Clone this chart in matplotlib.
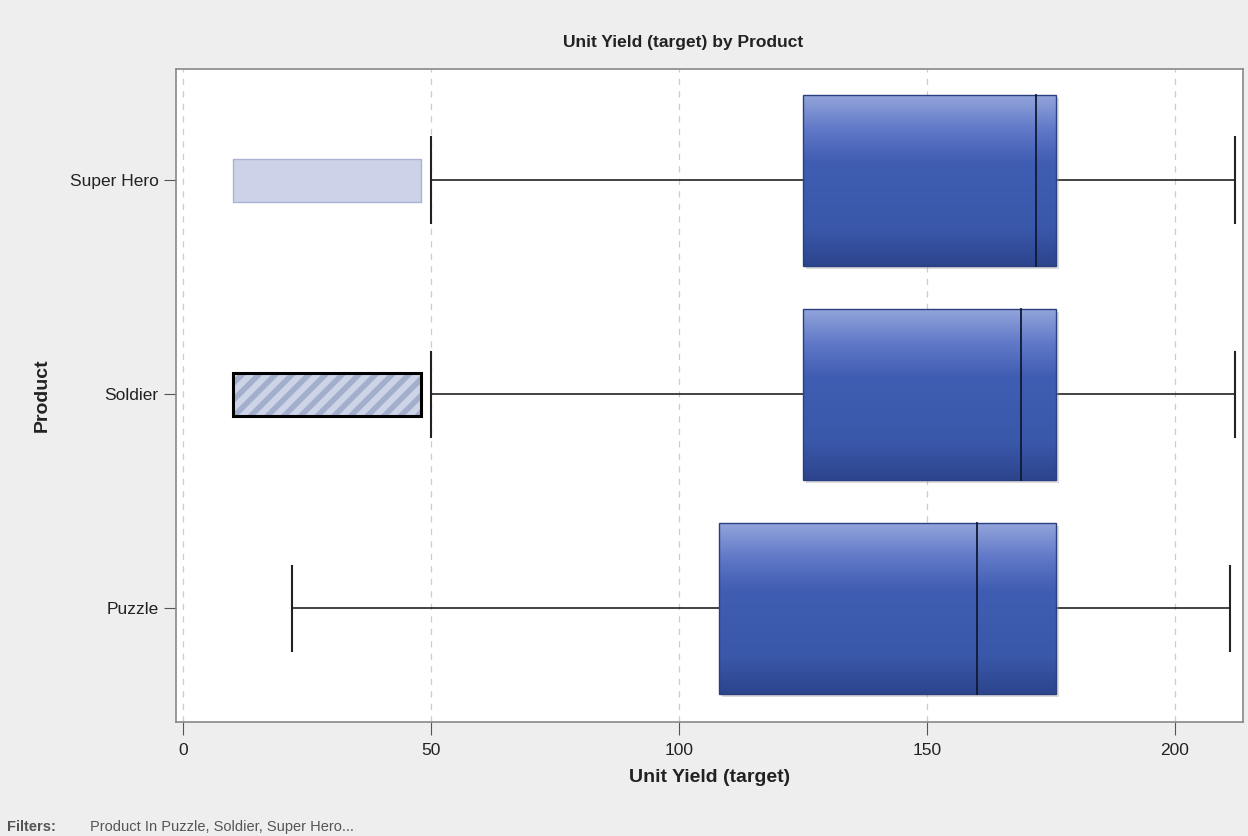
import numpy as np
import matplotlib.pyplot as plt
from matplotlib.patches import Rectangle
from matplotlib.colors import LinearSegmentedColormap

plt.rcParams['font.family'] = ['Liberation Sans', 'DejaVu Sans']
plt.rcParams['hatch.linewidth'] = 4.0

# Data
products = ['Puzzle', 'Soldier', 'Super Hero']
whisker_low = [22, 50, 50]
q1 = [108, 125, 125]
median = [160, 169, 172]
q3 = [176, 176, 176]
whisker_high = [211, 212, 212]

# Left-hand highlight bars (Soldier is the selected, hatched one)
hl_start = [None, 10, 10]
hl_end = [None, 48, 48]
hl_selected = [False, True, False]

x_ticks = [0, 50, 100, 150, 200]


def main():
    fig = plt.figure(figsize=(12.48, 8.36), dpi=100, facecolor='#eeeeee')
    ax = fig.add_axes([0.141, 0.1364, 0.855, 0.7811])
    ax.set_facecolor('white')

    cmap = LinearSegmentedColormap.from_list(
        'boxgrad', [(0.0, '#95a6dc'), (0.2, '#6179c8'), (0.4, '#3f5db2'),
                    (0.78, '#3a58aa'), (1.0, '#2c448c')])
    grad = np.linspace(0, 1, 256).reshape(-1, 1)

    box_h = 0.8
    cap_h = 0.4
    hl_h = 0.2
    for i, name in enumerate(products):
        # whiskers
        ax.plot([whisker_low[i], q1[i]], [i, i], color='#222222', lw=1.2, zorder=2)
        ax.plot([q3[i], whisker_high[i]], [i, i], color='#222222', lw=1.2, zorder=2)
        ax.plot([whisker_low[i]] * 2, [i - cap_h / 2, i + cap_h / 2], color='#222222', lw=1.5, zorder=2)
        ax.plot([whisker_high[i]] * 2, [i - cap_h / 2, i + cap_h / 2], color='#222222', lw=1.5, zorder=2)

        # shadow
        sh = Rectangle((q1[i] + 0.6, i - box_h / 2 - 0.015), q3[i] - q1[i], box_h,
                       facecolor='#999999', edgecolor='none', alpha=0.35, zorder=3)
        ax.add_patch(sh)

        # gradient box
        rect = Rectangle((q1[i], i - box_h / 2), q3[i] - q1[i], box_h,
                         facecolor='none', edgecolor='#2b3f7f', lw=1.0, zorder=5)
        ax.add_patch(rect)
        im = ax.imshow(grad, cmap=cmap, aspect='auto', origin='upper',
                       extent=(q1[i], q3[i], i - box_h / 2, i + box_h / 2), zorder=4)
        im.set_clip_path(rect)

        # median
        ax.plot([median[i]] * 2, [i - box_h / 2, i + box_h / 2], color='#111a33', lw=1.3, zorder=6)

        # highlight bars
        if hl_start[i] is not None:
            if hl_selected[i]:
                ax.barh(i, hl_end[i] - hl_start[i], left=hl_start[i], height=hl_h,
                        color='#cdd4e8', edgecolor='#a3aecd', hatch='//', lw=0, zorder=3)
                ax.barh(i, hl_end[i] - hl_start[i], left=hl_start[i], height=hl_h,
                        facecolor='none', edgecolor='black', lw=2.2, zorder=4)
            else:
                ax.barh(i, hl_end[i] - hl_start[i], left=hl_start[i], height=hl_h,
                        color='#ccd3e8', edgecolor='#aab3d2', lw=1.0, zorder=3)

    ax.set_xlim(-1.4, 213.7)
    ax.set_ylim(-0.53, 2.52)
    ax.set_xticks(x_ticks)
    ax.set_yticks(range(len(products)))
    ax.set_yticklabels(products)
    ax.tick_params(axis='both', labelsize=12.5, color='#555555', length=9, labelcolor='#222222')
    ax.tick_params(axis='x', pad=6)
    ax.xaxis.grid(True, linestyle=(0, (5, 5)), color='#cccccc', lw=0.9, zorder=0)
    ax.set_axisbelow(True)
    for sp in ax.spines.values():
        sp.set_color('#888888')
        sp.set_linewidth(1.2)

    ax.set_xlabel('Unit Yield (target)', fontsize=14, fontweight='bold', labelpad=8, color='#222222')
    ax.set_ylabel('Product', fontsize=14, fontweight='bold', labelpad=14, color='#222222')
    fig.text(0.547, 0.949, 'Unit Yield (target) by Product', ha='center', va='center',
             fontsize=12.5, fontweight='bold', color='#222222')

    fig.text(0.006, 0.006, 'Filters:', fontsize=10.5, fontweight='bold', color='#555555')
    fig.text(0.072, 0.006, 'Product In Puzzle, Soldier, Super Hero...', fontsize=10.5, color='#555555')

    fig.savefig('out.png', dpi=100, facecolor=fig.get_facecolor())


if __name__ == '__main__':
    main()
